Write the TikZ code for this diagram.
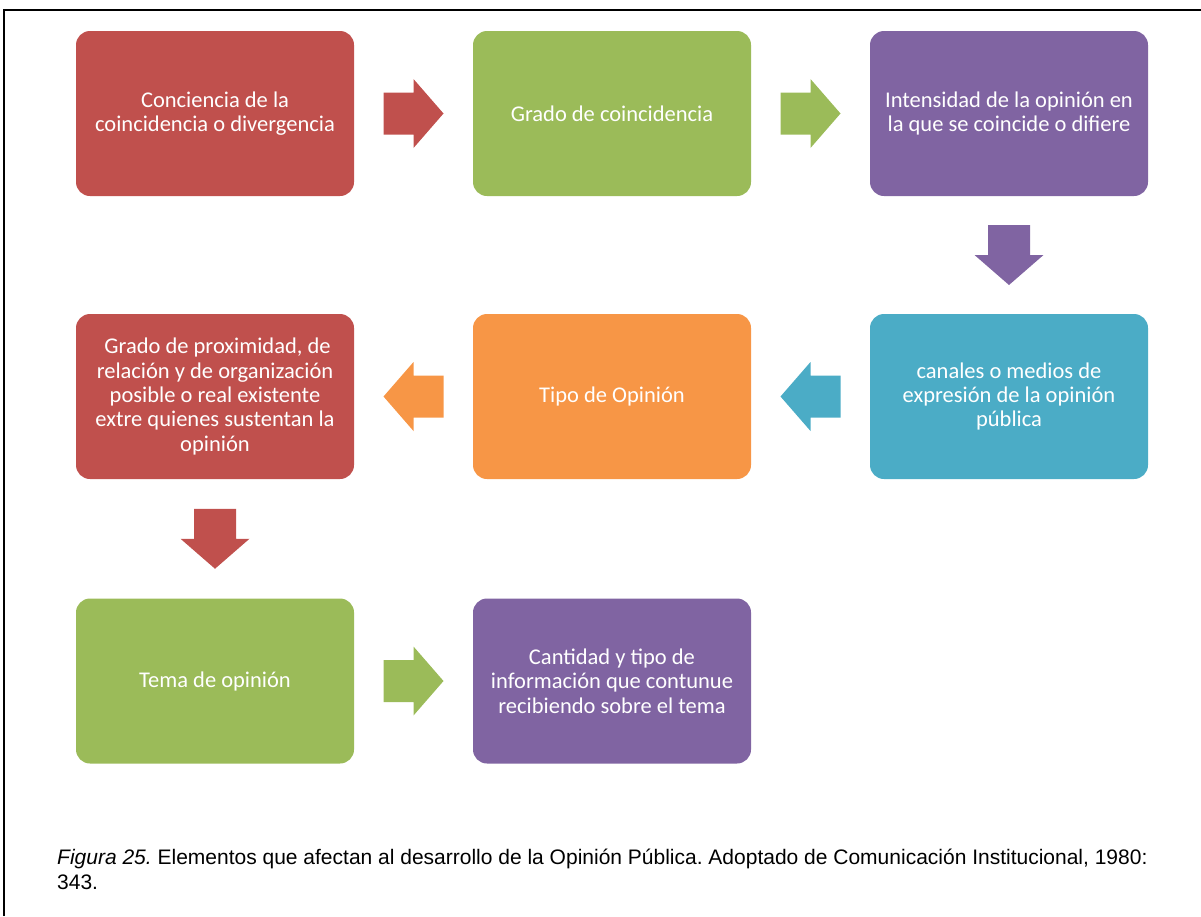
\documentclass[tikz,border=0pt]{standalone}
\usepackage{fontspec}
\setmainfont{Carlito}
\newfontfamily\piefont{Liberation Sans}
\usetikzlibrary{calc}

\definecolor{rojo}{HTML}{C0504D}
\definecolor{verde}{HTML}{9BBB59}
\definecolor{morado}{HTML}{8064A2}
\definecolor{aqua}{HTML}{4BACC6}
\definecolor{naranja}{HTML}{F79646}

\begin{document}
\begin{tikzpicture}[x=1pt,y=1pt,
  caja/.style={rounded corners=14pt, minimum width=278pt, minimum height=165pt,
    inner sep=0pt, text=white, align=center, font=\fontsize{22.5}{24.3}\selectfont},
  flecha/.pic={\fill (-30,-21) -- (0,-21) -- (0,-34.5) -- (30,0) -- (0,34.5) -- (0,21) -- (-30,21) -- cycle;}]
  \useasboundingbox (0,0) rectangle (1201,-916);

  % frame
  \draw[line width=1.8pt] (4,-916) -- (4,-10) -- (1201,-10);

  % first row
  \node[caja, fill=rojo]    (conc)  at (215,-113.5)  {Conciencia de la\\coincidencia o divergencia};
  \node[caja, fill=verde]   (grado) at (612,-113.5)  {Grado de coincidencia};
  \node[caja, fill=morado]  (inten) at (1009,-113.5) {Intensidad de la opinión en\\la que se coincide o difiere};

  % second row
  \node[caja, fill=rojo]    (prox)  at (215,-396.5)  {\ Grado de proximidad, de\\relación y de organización\\posible o real existente\\extre quienes sustentan la\\opinión};
  \node[caja, fill=naranja] (tipo)  at (612,-396.5)  {Tipo de Opinión};
  \node[caja, fill=aqua]    (canal) at (1009,-396.5) {canales o medios de\\expresión de la opinión\\pública};

  % third row
  \node[caja, fill=verde]   (tema)  at (215,-681)    {Tema de opinión};
  \node[caja, fill=morado]  (cant)  at (612,-681)    {Cantidad y tipo de\\información que contunue\\recibiendo sobre el tema};

  % block arrows between the boxes
  \pic[fill=rojo]                at ($(conc.east)!.5!(grado.west)$)  {flecha};
  \pic[fill=verde]               at ($(grado.east)!.5!(inten.west)$) {flecha};
  \pic[fill=morado, rotate=-90]  at ($(inten.south)!.5!(canal.north)$) {flecha};
  \pic[fill=aqua, rotate=180]    at ($(canal.west)!.5!(tipo.east)$)  {flecha};
  \pic[fill=naranja, rotate=180] at ($(tipo.west)!.5!(prox.east)$)   {flecha};
  \pic[fill=rojo, rotate=-90]    at ($(prox.south)!.5!(tema.north)$) {flecha};
  \pic[fill=verde]               at ($(tema.east)!.5!(cant.west)$)   {flecha};

  % caption
  \node[anchor=base west, align=left, inner sep=0pt,
    font=\piefont\frenchspacing\fontsize{21}{24.5}\selectfont] (pie) at (57,-889)
    {\textit{Figura 25.} Elementos que afectan al desarrollo de la Opinión Pública. Adoptado de Comunicación Institucional, 1980:\\343.};
\end{tikzpicture}
\end{document}
